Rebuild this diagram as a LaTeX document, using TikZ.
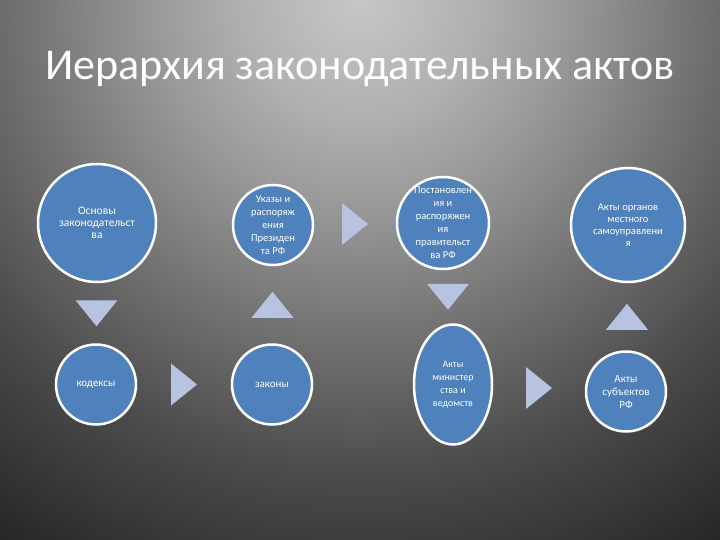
\documentclass[tikz,border=0pt]{standalone}
\usepackage{fontspec}
\setmainfont{Carlito}
\usetikzlibrary{calc,positioning,shapes.geometric}

\definecolor{actblue}{HTML}{4F81BD}
\definecolor{wedgeblue}{RGB}{183,195,224}
\pgfdeclareradialshading{slidebg}{\pgfpoint{0bp}{0bp}}{%
  color(0bp)=(black!22); color(4.5bp)=(black!31); color(7.8bp)=(black!40);
  color(13.7bp)=(black!58); color(18.2bp)=(black!71); color(24.6bp)=(black!85);
  color(29.5bp)=(black!94); color(50bp)=(black!94)}

\begin{document}
\begin{tikzpicture}[
    x=1pt, y=-1pt,
    node distance=60pt,
    act/.style={circle, draw=white, line width=2.5pt, fill=actblue, text=white, inner sep=-10pt, align=center, font=\fontsize{11}{13}\selectfont},
    heading/.style={text=white, anchor=base, font=\fontsize{44}{50}\selectfont},
    wedge/.pic={\fill[wedgeblue] (-13,-21) -- (13,0) -- (-13,21) -- cycle;}
]
\useasboundingbox (0,0) rectangle (720,540);
\begin{scope}
\clip (0,0) rectangle (720,540);
\shade[shading=slidebg] (360,0) circle (660pt);
\end{scope}

\node[heading] (title) at (360,80) {Иерархия законодательных актов};

% top row
\node[act, minimum size=118pt, font=\fontsize{11.5}{12}\selectfont] (osnovy) at (97,223) {Основы\\законодательст\\ва};
\node[act, minimum size=80pt, font=\fontsize{10.5}{13}\selectfont] (ukazy) at (273,225) {Указы и\\распоряж\\ения\\Президен\\та РФ};
\node[act, minimum size=92pt, font=\fontsize{10.5}{13}\selectfont] (postan) at (443,223) {Постановлен\\ия и\\распоряжен\\ия\\правительст\\ва РФ};
\node[act, minimum size=114pt, font=\fontsize{10.5}{12}\selectfont] (organy) at (628,225) {Акты органов\\местного\\самоуправлени\\я};

% bottom row
\node[act, minimum size=80pt, below=60pt of osnovy, xshift=-1pt] (kodeksy) {кодексы};
\node[act, minimum size=80pt, below=77pt of ukazy, xshift=-1pt] (zakony) {законы};
\node[act, ellipse, minimum width=78pt, minimum height=120pt, below=53pt of postan, xshift=10pt, font=\fontsize{10}{13}\selectfont] (ministry) {Акты\\министер\\ства и\\ведомств};
\node[act, minimum size=80pt, below=67pt of organy, xshift=-2pt] (subjekty) {Акты\\субъектов\\РФ};

% wedges
\pic[rotate=-90] at ($(osnovy.south)!0.5!(kodeksy.north)$) {wedge};
\pic at ($(kodeksy.east)!0.5!(zakony.west)$) {wedge};
\pic[rotate=90] at ($(zakony.north)!0.5!(ukazy.south)$) {wedge};
\pic at ($(ukazy.east)!0.5!(postan.west)$) {wedge};
\pic[rotate=-90] at ($(postan.south)!0.5!(ministry.north)$) {wedge};
\pic at ($(ministry.east)!0.5!(subjekty.west)$) {wedge};
\pic[rotate=90] at ($(subjekty.north)!0.5!(organy.south)$) {wedge};
\end{tikzpicture}
\end{document}
